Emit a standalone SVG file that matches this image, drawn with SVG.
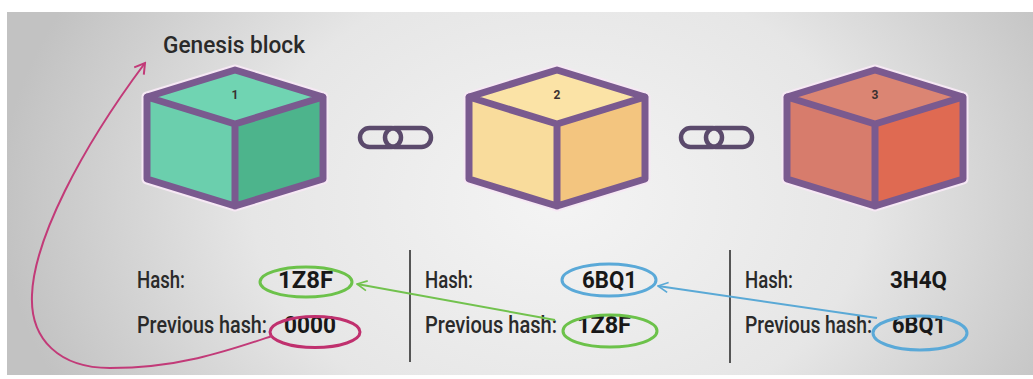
<svg xmlns="http://www.w3.org/2000/svg" width="1033" height="379" viewBox="0 0 1033 379">
  <defs>
    <radialGradient id="bg" cx="560" cy="200" r="560" gradientUnits="userSpaceOnUse" gradientTransform="translate(560 200) scale(1 0.75) translate(-560 -200)">
      <stop offset="0" stop-color="#f4f4f4"/>
      <stop offset="0.55" stop-color="#e6e6e6"/>
      <stop offset="1" stop-color="#c2c2c2"/>
    </radialGradient>
    <marker id="arrowGreen" viewBox="0 0 12 12" refX="11" refY="6" markerWidth="12" markerHeight="12" markerUnits="userSpaceOnUse" orient="auto">
      <path d="M1,1 L11,6 L1,11" fill="none" stroke="#72c24e" stroke-width="1.6"/>
    </marker>
    <marker id="arrowBlue" viewBox="0 0 12 12" refX="11" refY="6" markerWidth="12" markerHeight="12" markerUnits="userSpaceOnUse" orient="auto">
      <path d="M1,1 L11,6 L1,11" fill="none" stroke="#5aa9d6" stroke-width="1.6"/>
    </marker>
    <marker id="arrowPink" viewBox="0 0 14 14" refX="12" refY="7" markerWidth="14" markerHeight="14" markerUnits="userSpaceOnUse" orient="auto">
      <path d="M2,1 L12,7 L2,13" fill="none" stroke="#c23a78" stroke-width="2"/>
    </marker>
  </defs>
  <style>
    .txt { font-family: Roboto, "Liberation Sans", sans-serif; fill: #2a2a2a; font-size: 23px; font-weight: 500; }
    .val { font-family: Roboto, "Liberation Sans", sans-serif; fill: #181818; font-size: 23px; font-weight: bold; }
    .num { font-family: Roboto, "Liberation Sans", sans-serif; fill: #3a3030; font-size: 12px; font-weight: bold; text-anchor: middle; }
    .edge { fill: none; stroke: #7a5a8f; stroke-width: 7; stroke-linejoin: round; stroke-linecap: round; }
    .halo { fill: none; stroke: #f6e8f4; stroke-width: 11; stroke-linejoin: round; }
    .link { fill: none; stroke: #5b4a6c; stroke-width: 4.5; }
    .divider { stroke: #555; stroke-width: 2; }
    .ring { fill: none; stroke-width: 3; }
  </style>

  <!-- backdrop panel -->
  <rect x="0" y="0" width="1033" height="379" fill="#ffffff"/>
  <rect x="7" y="12" width="1026" height="363" fill="url(#bg)"/>

  <text class="txt" x="163" y="53" font-size="22" textLength="142" lengthAdjust="spacingAndGlyphs">Genesis block</text>

  <!-- block 1 -->
  <g id="block1" transform="translate(235 0)">
    <path class="halo" d="M0,70 L88,97 L88,179 L0,206 L-88,179 L-88,97 Z"/>
    <path d="M0,70 L88,97 L0,124 L-88,97 Z" fill="#70d4b2"/>
    <path d="M-88,97 L0,124 L0,206 L-88,179 Z" fill="#6bcfad"/>
    <path d="M88,97 L0,124 L0,206 L88,179 Z" fill="#4db48c"/>
    <path class="edge" d="M0,70 L88,97 L88,179 L0,206 L-88,179 L-88,97 Z M-88,97 L0,124 L88,97 M0,124 L0,206"/>
    <text class="num" x="0" y="99">1</text>
  </g>

  <!-- block 2 -->
  <g id="block2" transform="translate(557 0)">
    <path class="halo" d="M0,70 L88,97 L88,179 L0,206 L-88,179 L-88,97 Z"/>
    <path d="M0,70 L88,97 L0,124 L-88,97 Z" fill="#fbe3a6"/>
    <path d="M-88,97 L0,124 L0,206 L-88,179 Z" fill="#f9dc9c"/>
    <path d="M88,97 L0,124 L0,206 L88,179 Z" fill="#f3c57f"/>
    <path class="edge" d="M0,70 L88,97 L88,179 L0,206 L-88,179 L-88,97 Z M-88,97 L0,124 L88,97 M0,124 L0,206"/>
    <text class="num" x="0" y="99">2</text>
  </g>

  <!-- block 3 -->
  <g id="block3" transform="translate(875 0)">
    <path class="halo" d="M0,70 L88,97 L88,179 L0,206 L-88,179 L-88,97 Z"/>
    <path d="M0,70 L88,97 L0,124 L-88,97 Z" fill="#db8573"/>
    <path d="M-88,97 L0,124 L0,206 L-88,179 Z" fill="#d77c6c"/>
    <path d="M88,97 L0,124 L0,206 L88,179 Z" fill="#df6a52"/>
    <path class="edge" d="M0,70 L88,97 L88,179 L0,206 L-88,179 L-88,97 Z M-88,97 L0,124 L88,97 M0,124 L0,206"/>
    <text class="num" x="0" y="99">3</text>
  </g>

  <!-- chain links between blocks -->
  <g id="link12">
    <rect class="link" x="360" y="128" width="41" height="19" rx="9.5"/>
    <rect class="link" x="385" y="128" width="46" height="19" rx="9.5"/>
  </g>
  <g id="link23">
    <rect class="link" x="681" y="128" width="41" height="19" rx="9.5"/>
    <rect class="link" x="706" y="128" width="46" height="19" rx="9.5"/>
  </g>

  <!-- column dividers -->
  <line class="divider" x1="410" y1="250" x2="410" y2="362"/>
  <line class="divider" x1="730" y1="250" x2="730" y2="363"/>

  <!-- hash table, block 1 -->
  <g id="hashes1">
    <text class="txt" x="137" y="288" textLength="48" lengthAdjust="spacingAndGlyphs">Hash:</text>
    <text class="val" x="278" y="288" textLength="55" lengthAdjust="spacingAndGlyphs">1Z8F</text>
    <ellipse class="ring" cx="306" cy="282" rx="46" ry="15" stroke="#6cc24a"/>
    <text class="txt" x="137" y="333" textLength="130" lengthAdjust="spacingAndGlyphs">Previous hash:</text>
    <text class="val" x="284" y="333" textLength="52" lengthAdjust="spacingAndGlyphs">0000</text>
    <ellipse class="ring" cx="315" cy="332" rx="45" ry="15.5" stroke="#c0306e"/>
  </g>

  <!-- hash table, block 2 -->
  <g id="hashes2">
    <text class="txt" x="425" y="288" textLength="48" lengthAdjust="spacingAndGlyphs">Hash:</text>
    <text class="val" x="582" y="288" textLength="55" lengthAdjust="spacingAndGlyphs">6BQ1</text>
    <ellipse class="ring" cx="609" cy="280" rx="47" ry="16" stroke="#5aa9d8"/>
    <text class="txt" x="425" y="333" textLength="132" lengthAdjust="spacingAndGlyphs">Previous hash:</text>
    <text class="val" x="577" y="333" textLength="54" lengthAdjust="spacingAndGlyphs">1Z8F</text>
    <ellipse class="ring" cx="610" cy="331" rx="47" ry="16" stroke="#6cc24a"/>
  </g>

  <!-- hash table, block 3 -->
  <g id="hashes3">
    <text class="txt" x="745" y="288" textLength="48" lengthAdjust="spacingAndGlyphs">Hash:</text>
    <text class="val" x="890" y="288" textLength="57" lengthAdjust="spacingAndGlyphs">3H4Q</text>
    <text class="txt" x="745" y="333" textLength="127" lengthAdjust="spacingAndGlyphs">Previous hash:</text>
    <text class="val" x="892" y="333" textLength="54" lengthAdjust="spacingAndGlyphs">6BQ1</text>
    <ellipse class="ring" cx="920" cy="333" rx="47" ry="17" stroke="#5aa9d8"/>
  </g>

  <!-- references between hashes -->
  <g id="connectors">
    <path d="M555,320 L357,284" fill="none" stroke="#72c24e" stroke-width="2" marker-end="url(#arrowGreen)"/>
    <path d="M877,318 L658,286" fill="none" stroke="#5aa9d6" stroke-width="2" marker-end="url(#arrowBlue)"/>
    <path d="M272,336 C230,350 180,368 110,368 C60,368 30,340 32,295 C34,240 80,150 145,63" fill="none" stroke="#c23a78" stroke-width="2" marker-end="url(#arrowPink)"/>
  </g>
</svg>
